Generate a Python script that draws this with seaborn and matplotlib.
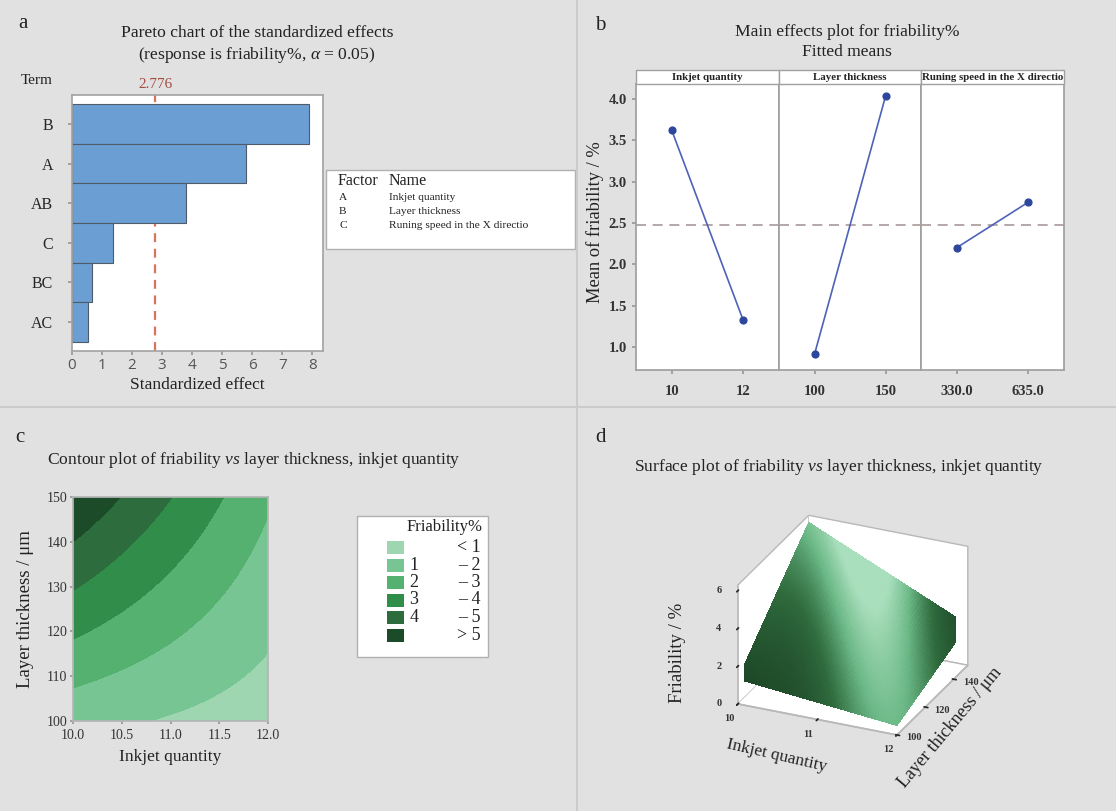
import numpy as np
import matplotlib
matplotlib.use("Agg")
import matplotlib.pyplot as plt
import seaborn as sns
from matplotlib.patches import Rectangle
from matplotlib.lines import Line2D
from matplotlib.colors import LinearSegmentedColormap
from mpl_toolkits.mplot3d import Axes3D, proj3d  # noqa: F401

# ---------------- data ----------------
pareto_terms = ["B", "A", "AB", "C", "BC", "AC"]
pareto_effects = [7.90, 5.78, 3.80, 1.38, 0.68, 0.53]
pareto_critical = 2.776
pareto_xticks = [0, 1, 2, 3, 4, 5, 6, 7, 8]

factor_codes = ["A", "B", "C"]
factor_names = ["Inkjet quantity", "Layer thickness", "Runing speed in the X directio"]

facet_titles = ["Inkjet quantity", "Layer thickness", "Runing speed in the X directio"]
inkjet_levels = ["10", "12"]
inkjet_means = [3.62, 1.32]
layer_levels = ["100", "150"]
layer_means = [0.91, 4.03]
speed_levels = ["330.0", "635.0"]
speed_means = [2.20, 2.75]
overall_mean = 2.47
main_yticks = [1.0, 1.5, 2.0, 2.5, 3.0, 3.5, 4.0]

# fitted model (coded units -1..+1) used for contour and surface
model_intercept = 2.47
model_coef_A = -1.15
model_coef_B = 1.56
model_coef_AB = -0.74
inkjet_range = [10.0, 12.0]
layer_range = [100.0, 150.0]
contour_levels = [1, 2, 3, 4, 5]
contour_left_labels = ["", "1", "2", "3", "4", ""]
contour_right_labels = ["< 1", "\u2013 2", "\u2013 3", "\u2013 4", "\u2013 5", "> 5"]
contour_xticks = [10.0, 10.5, 11.0, 11.5, 12.0]
contour_yticks = [100, 110, 120, 130, 140, 150]
surf_xticks = [10, 11, 12]
surf_yticks = [100, 120, 140]
surf_zticks = [0, 2, 4, 6]

# ---------------- style ----------------
sns.set_theme(style="white")
plt.rcParams['font.family'] = ['Liberation Serif', 'DejaVu Serif']
plt.rcParams['mathtext.fontset'] = 'custom'
plt.rcParams['mathtext.rm'] = 'Liberation Serif'
plt.rcParams['mathtext.it'] = 'Liberation Serif:italic'
plt.rcParams['axes.edgecolor'] = '#a5a5a5'

BG = '#e1e1e1'
TXT = '#222222'
TITLE_FS = 12.6
W, H = 1116, 811
fig = plt.figure(figsize=(W / 100, H / 100), dpi=100, facecolor=BG)


def fx(px):
    return px / W


def fy(py):
    return 1 - py / H


def rect(l, t, r, b):
    return [fx(l), fy(b), (r - l) / W, (b - t) / H]


# separators
fig.add_artist(Line2D([fx(577), fx(577)], [0, 1], color='#cbcbcb', lw=1.5))
fig.add_artist(Line2D([0, 1], [fy(407), fy(407)], color='#cbcbcb', lw=1.5))

# panel letters
for lab, (px, py) in zip("abcd", [(23, 24), (600, 25), (20, 437), (600, 437)]):
    fig.text(fx(px), fy(py), lab, fontsize=15, ha='center', va='center', color=TXT)

# ---------------- panel a : Pareto ----------------
axa = fig.add_axes(rect(72, 95, 323, 351))
sns.barplot(x=pareto_effects, y=pareto_terms, orient='h', color='#6b9fd4',
            saturation=1, width=1.0, edgecolor='#4f5b69', linewidth=0.8, ax=axa)
axa.set_facecolor('white')
axa.set_xlim(0, 8.35)
axa.set_ylim(5.73, -0.73)
axa.axvline(pareto_critical, color='#d9735e', ls=(0, (4, 3)), lw=1.6, zorder=0.5)
axa.annotate(f"{pareto_critical:.3f}", xy=(pareto_critical, 1), xycoords=('data', 'axes fraction'),
             xytext=(0, 3), textcoords='offset points', ha='center', va='bottom',
             fontsize=11, color='#a34c40')
axa.set_xticks(pareto_xticks)
axa.set_xticklabels([str(t) for t in pareto_xticks], family=['Open Sans', 'DejaVu Sans'],
                    fontsize=11, color='#555555')
axa.tick_params(axis='y', labelsize=11.5, length=3, color='#999999', left=True, pad=10.5)
axa.tick_params(axis='x', length=3, color='#999999', bottom=True, pad=2)
axa.set_ylabel('')
axa.set_xlabel('Standardized effect', fontsize=12.5, labelpad=3, color=TXT)
for s in axa.spines.values():
    s.set_color('#a5a5a5')
fig.text(fx(37), fy(80), 'Term', ha='center', va='center', fontsize=11, color=TXT)
fig.text(fx(257), fy(33), 'Pareto chart of the standardized effects', ha='center',
         va='center', fontsize=TITLE_FS, color=TXT)
fig.text(fx(257), fy(55), r'(response is friability%, $\alpha$ = 0.05)', ha='center',
         va='center', fontsize=TITLE_FS, color=TXT)

# factor table
fig.add_artist(Rectangle((fx(326), fy(249)), (575 - 326) / W, (249 - 170) / H,
                         transform=fig.transFigure, fc='white', ec='#b0b0b0', lw=1))
fig.text(fx(338), fy(181), 'Factor', ha='left', va='center', fontsize=11.5, color=TXT)
fig.text(fx(389), fy(181), 'Name', ha='left', va='center', fontsize=11.5, color=TXT)
for i, (c, n) in enumerate(zip(factor_codes, factor_names)):
    yy = 197 + i * 14.5
    fig.text(fx(339), fy(yy), c, ha='left', va='center', fontsize=8.2, color=TXT)
    fig.text(fx(389), fy(yy), n, ha='left', va='center', fontsize=8.2, color=TXT)

# ---------------- panel b : main effects ----------------
facet_bounds = [(636, 779), (779, 921), (921, 1064)]
facet_levels = [inkjet_levels, layer_levels, speed_levels]
facet_means = [inkjet_means, layer_means, speed_means]
for k, ((l, r), lv, mv, tt) in enumerate(zip(facet_bounds, facet_levels, facet_means, facet_titles)):
    ax = fig.add_axes(rect(l, 84, r, 370))
    ax.set_facecolor('white')
    ax.axhline(overall_mean, color='#a89898', ls=(0, (6, 4)), lw=1.2, zorder=1)
    sns.pointplot(x=lv, y=mv, ax=ax, color='#4e63b8', markersize=5, linewidth=1.2)
    for ln in ax.lines:
        if ln.get_marker() not in (None, 'None', ''):
            ln.set_markerfacecolor('#2c479c')
            ln.set_markeredgecolor('#2c479c')
    ax.set_xlim(-0.5, 1.5)
    ax.set_ylim(0.72, 4.18)
    ax.set_yticks(main_yticks)
    ax.set_xticks([0, 1])
    ax.set_xticklabels(lv, fontsize=10.5, fontweight='bold', color='#333333')
    if k == 0:
        ax.set_yticklabels([f"{t:.1f}" for t in main_yticks], fontsize=10.5,
                           fontweight='bold', color='#333333')
        ax.tick_params(axis='y', left=True, length=3, color='#999999')
    else:
        ax.set_yticklabels([])
        ax.tick_params(axis='y', left=False)
    ax.tick_params(axis='x', bottom=True, length=3, color='#999999', pad=8)
    ax.set_xlabel('')
    ax.set_ylabel('')
    for s in ax.spines.values():
        s.set_color('#a0a0a0')
    fig.add_artist(Rectangle((fx(l), fy(84)), (r - l) / W, 14 / H, transform=fig.transFigure,
                             fc='white', ec='#a0a0a0', lw=1))
    fig.text(fx((l + r) / 2), fy(77), tt, ha='center', va='center', fontsize=7.8,
             fontweight='bold', color=TXT)
fig.text(fx(595), fy(222), 'Mean of friability / %', rotation=90, ha='center', va='center',
         fontsize=13.3, color=TXT)
fig.text(fx(847), fy(32), 'Main effects plot for friability%', ha='center', va='center',
         fontsize=TITLE_FS, color=TXT)
fig.text(fx(847), fy(52), 'Fitted means', ha='center', va='center', fontsize=TITLE_FS, color=TXT)

# ---------------- model grid ----------------
xi = np.linspace(inkjet_range[0], inkjet_range[1], 121)
yi = np.linspace(layer_range[0], layer_range[1], 121)
X, Y = np.meshgrid(xi, yi)
xa_c = (X - np.mean(inkjet_range)) / ((inkjet_range[1] - inkjet_range[0]) / 2)
xb_c = (Y - np.mean(layer_range)) / ((layer_range[1] - layer_range[0]) / 2)
Z = model_intercept + model_coef_A * xa_c + model_coef_B * xb_c + model_coef_AB * xa_c * xb_c

# ---------------- panel c : contour ----------------
contour_colors = ['#9dd6b1', '#76c593', '#55b16f', '#318d4a', '#2c6c3d', '#1b4b29']
axc = fig.add_axes(rect(73, 497, 268, 721))
axc.contourf(X, Y, Z, levels=[Z.min() - 1] + contour_levels + [Z.max() + 1],
             colors=contour_colors)
axc.set_xticks(contour_xticks)
axc.set_xticklabels([f"{t:.1f}" for t in contour_xticks], fontsize=10, color='#333333')
axc.set_yticks(contour_yticks)
axc.set_yticklabels([str(t) for t in contour_yticks], fontsize=10, color='#333333')
axc.tick_params(axis='y', length=2, color='#999999', pad=2, left=True)
axc.tick_params(axis='x', length=2, color='#999999', pad=4, bottom=True)
for s in axc.spines.values():
    s.set_color('#b5b5b5')
axc.set_xlabel('Inkjet quantity', fontsize=12.5, labelpad=5, color=TXT)
axc.set_ylabel('Layer thickness / \u03bcm', fontsize=13.5, labelpad=9, color=TXT)
fig.text(fx(47), fy(460), r'Contour plot of friability $\mathit{vs}$ layer thickness, inkjet quantity',
         ha='left', va='center', fontsize=TITLE_FS, color=TXT)

# contour legend
fig.add_artist(Rectangle((fx(357), fy(657)), (488 - 357) / W, (657 - 516) / H,
                         transform=fig.transFigure, fc='white', ec='#b0b0b0', lw=1))
fig.text(fx(445), fy(527), 'Friability%', ha='center', va='center', fontsize=12, color=TXT)
for i, (col, ll, rl) in enumerate(zip(contour_colors, contour_left_labels, contour_right_labels)):
    top = 541 + i * 17.5
    fig.add_artist(Rectangle((fx(387), fy(top + 13)), 17 / W, 13 / H, transform=fig.transFigure,
                             fc=col, ec='none'))
    fig.text(fx(414), fy(top + 6.5), ll, ha='center', va='center', fontsize=13, color=TXT)
    fig.text(fx(481), fy(top + 6.5), rl, ha='right', va='center', fontsize=13, color=TXT)

# ---------------- panel d : surface ----------------
axd = fig.add_axes(rect(700, 522, 1000, 734), projection='3d')
axd.set_facecolor('none')
u = (xa_c + 1) / 2
v = (xb_c + 1) / 2
d = u + 0.55 * v - 0.92
shade = (0.08 + np.exp(-d ** 2 / 0.11) * (0.5 + 0.45 * v)
         + 0.42 * v * (1 - u) ** 2 + 0.12 * u * (1 - v))
shade = np.clip(shade, 0, 1)
surf_cmap = LinearSegmentedColormap.from_list('surf', ['#183d21', '#2f6b3d', '#6bb886', '#aadfbd'])
axd.plot_surface(X, Y, Z, facecolors=surf_cmap(shade), shade=False, rstride=2, cstride=2,
                 linewidth=0, antialiased=False)
axd.view_init(elev=26, azim=-66)
axd.set_proj_type('ortho')
axd.set_box_aspect((1, 1, 0.76), zoom=1.28)
axd.set_xlim(inkjet_range)
axd.set_ylim(layer_range)
axd.set_zlim(0, 6.3)
axd.set_xticks(surf_xticks)
axd.set_yticks(surf_yticks)
axd.set_zticks(surf_zticks)
axd.set_xticklabels([''] * len(surf_xticks))
axd.set_yticklabels([''] * len(surf_yticks))
axd.set_zticklabels([''] * len(surf_zticks))
axd.grid(False)
for axis in (axd.xaxis, axd.yaxis, axd.zaxis):
    axis.set_pane_color((1, 1, 1, 1))
    axis.pane.set_edgecolor('#b8b8b8')
    axis.line.set_color('#b8b8b8')
    axis.set_tick_params(pad=0)
try:
    axd.zaxis.set_ticks_position('lower')
except Exception:
    pass
axd.set_xlabel('')
axd.set_ylabel('')
axd.set_zlabel('')

# tick labels placed from the library's 3D projection of the tick positions
fig.canvas.draw()
M = axd.M


def place_ticks(xs, ys, zs, labels, dx, dy):
    for x, y, z, lab in zip(xs, ys, zs, labels):
        px, py, _ = proj3d.proj_transform(x, y, z, M)
        disp = axd.transData.transform((px, py))
        fpos = fig.transFigure.inverted().transform((disp[0] + dx, disp[1] + dy))
        fig.text(fpos[0], fpos[1], lab, ha='center', va='center', fontsize=7.5,
                 fontweight='bold', color='#333333')


n = len(surf_xticks)
place_ticks(surf_xticks, [layer_range[0]] * n, [0] * n, [str(t) for t in surf_xticks], -9, -15)
n = len(surf_yticks)
place_ticks([inkjet_range[1]] * n, surf_yticks, [0] * n, [str(t) for t in surf_yticks], 17, -3)
n = len(surf_zticks)
place_ticks([inkjet_range[0]] * n, [layer_range[0]] * n, surf_zticks, [str(t) for t in surf_zticks], -19, 0)

fig.text(fx(677), fy(653), 'Friability / %', rotation=90, ha='center', va='center',
         fontsize=13.5, color=TXT)
fig.text(fx(777), fy(756), 'Inkjet quantity', rotation=-13, ha='center', va='center',
         fontsize=12.5, color=TXT)
fig.text(fx(950), fy(728), 'Layer thickness / \u03bcm', rotation=50, ha='center', va='center',
         fontsize=13, color=TXT)
fig.text(fx(634), fy(467), r'Surface plot of friability $\mathit{vs}$ layer thickness, inkjet quantity',
         ha='left', va='center', fontsize=TITLE_FS, color=TXT)

fig.savefig('out.png', dpi=100, facecolor=BG)
